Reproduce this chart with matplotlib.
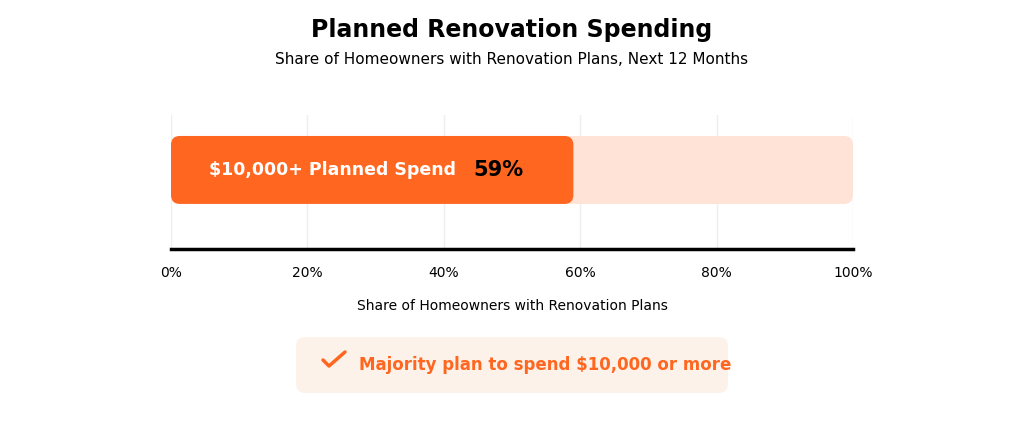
import matplotlib
matplotlib.use("Agg")
import matplotlib.pyplot as plt
from matplotlib.patches import FancyBboxPatch

categories = ["$10,000+ Planned Spend"]
values = [59]
ticks = [0, 20, 40, 60, 80, 100]
tick_labels = ["0%", "20%", "40%", "60%", "80%", "100%"]

ORANGE = "#FF6620"
LIGHT = "#FEE3D6"

fig = plt.figure(figsize=(10.24, 4.32), dpi=100)
W, H = 1024, 432
ax = fig.add_axes([171/W, (H-249)/H, 682/W, 134/H])
ax.set_xlim(0, 100)
ax.set_ylim(0, 1)
for s in ["top", "right", "left"]:
    ax.spines[s].set_visible(False)
ax.spines["bottom"].set_linewidth(2.5)
ax.spines["bottom"].set_color("black")
ax.set_yticks([])
ax.set_xticks(ticks)
ax.set_xticklabels(tick_labels, fontsize=10)
ax.tick_params(axis="x", length=0, pad=12)
for t in ticks:
    ax.axvline(t, color="#eeeeee", lw=1, zorder=0)
ax.set_xlabel("Share of Homeowners with Renovation Plans", fontsize=10, labelpad=14)

yc, h = 0.59, 0.507
asp = (1/134)/(1/6.82)
def rbar(x0, w, color, z):
    p = FancyBboxPatch((x0, yc-h/2), w, h, boxstyle="round,pad=0,rounding_size=1.3",
                       mutation_aspect=asp, fc=color, ec="none", zorder=z)
    ax.add_patch(p)
rbar(0, 100, LIGHT, 1)
rbar(0, values[0], ORANGE, 2)
ax.text(5.5, yc, categories[0], color="white", fontsize=12.5, fontweight="bold",
        va="center", ha="left", zorder=3)
ax.text(48, yc, f"{values[0]}%", color="black", fontsize=15, fontweight="bold",
        va="center", ha="center", zorder=3)

fig.text(0.5, 1-30/H, "Planned Renovation Spending", ha="center", va="center",
         fontsize=17, fontweight="bold")
fig.text(0.5, 1-60/H, "Share of Homeowners with Renovation Plans, Next 12 Months",
         ha="center", va="center", fontsize=11)

# callout
cax = fig.add_axes([296/W, (H-393)/H, 432/W, 56/H])
cax.set_xlim(0, 432); cax.set_ylim(0, 56); cax.axis("off")
cax.add_patch(FancyBboxPatch((0, 0), 432, 56, boxstyle="round,pad=0,rounding_size=9",
                             fc="#FDF2EA", ec="none"))
cax.plot([27, 33, 49], [33, 27, 41], color=ORANGE, lw=2.5, solid_capstyle="round")
cax.text(249, 28, "Majority plan to spend $10,000 or more", color=ORANGE,
         fontsize=12, fontweight="bold", ha="center", va="center")

fig.savefig("out.png", dpi=100)
